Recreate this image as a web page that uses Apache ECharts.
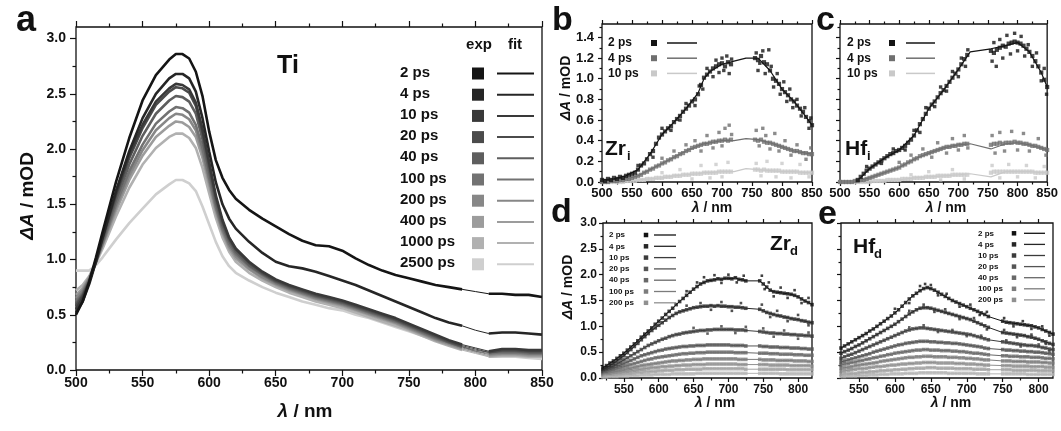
<!DOCTYPE html>
<html><head><meta charset="utf-8">
<script src="https://cdn.jsdelivr.net/npm/echarts@6/dist/echarts.min.js"></script>
<style>html,body{margin:0;padding:0;background:#fff}#c{width:1061px;height:431px}</style>
</head><body><div id="c"></div>
<script>
const FONT = '"Liberation Sans", Arial, Helvetica, sans-serif';

// ---------- Panel a (Ti) ----------
const A_WL = [500,505,510,515,520,530,540,550,560,570,575,580,585,590,595,600,605,610,615,620,630,640,650,660,670,680,690,700,710,720,730,740,750,760,770,780,790,800,810,820,830,840,850];
const A_LABELS = ['2 ps','4 ps','10 ps','20 ps','40 ps','100 ps','200 ps','400 ps','1000 ps','2500 ps'];
const A_2PS   = [0.50,0.62,0.80,1.02,1.25,1.70,2.10,2.44,2.67,2.81,2.86,2.86,2.82,2.70,2.48,2.16,1.90,1.74,1.63,1.55,1.45,1.37,1.30,1.23,1.17,1.13,1.12,1.08,1.01,0.95,0.90,0.86,0.83,0.80,0.77,0.75,0.73,0.71,0.69,0.69,0.68,0.68,0.66];
const A_4PS   = [0.52,0.62,0.78,0.98,1.20,1.62,1.98,2.28,2.50,2.64,2.68,2.68,2.64,2.52,2.28,1.98,1.70,1.50,1.37,1.28,1.16,1.06,0.98,0.94,0.92,0.89,0.85,0.81,0.77,0.72,0.67,0.62,0.57,0.52,0.47,0.43,0.40,0.36,0.33,0.34,0.34,0.33,0.32];
const A_10PS  = [0.55,0.65,0.80,1.00,1.20,1.60,1.95,2.22,2.43,2.55,2.59,2.58,2.54,2.42,2.18,1.88,1.58,1.36,1.20,1.10,0.98,0.89,0.82,0.77,0.73,0.69,0.66,0.63,0.59,0.55,0.51,0.47,0.42,0.37,0.32,0.27,0.23,0.20,0.17,0.19,0.19,0.18,0.18];
const A_20PS  = [0.58,0.67,0.80,0.99,1.19,1.58,1.92,2.19,2.40,2.52,2.56,2.55,2.51,2.39,2.15,1.85,1.56,1.34,1.19,1.09,0.97,0.88,0.81,0.76,0.72,0.68,0.65,0.62,0.58,0.54,0.50,0.46,0.41,0.36,0.31,0.26,0.22,0.19,0.16,0.18,0.18,0.17,0.17];
const A_40PS  = [0.60,0.68,0.81,0.98,1.17,1.54,1.86,2.12,2.32,2.44,2.48,2.47,2.43,2.32,2.09,1.80,1.52,1.31,1.17,1.07,0.95,0.87,0.80,0.75,0.71,0.67,0.64,0.61,0.57,0.53,0.49,0.45,0.40,0.35,0.30,0.25,0.21,0.18,0.16,0.17,0.17,0.16,0.16];
const A_100PS = [0.62,0.70,0.82,0.98,1.15,1.50,1.80,2.04,2.23,2.34,2.38,2.37,2.33,2.22,2.01,1.74,1.48,1.28,1.14,1.05,0.94,0.86,0.79,0.74,0.70,0.66,0.63,0.60,0.56,0.52,0.48,0.44,0.39,0.34,0.29,0.25,0.21,0.17,0.15,0.16,0.16,0.15,0.15];
const A_200PS = [0.65,0.72,0.83,0.98,1.14,1.47,1.76,1.99,2.17,2.28,2.32,2.31,2.27,2.17,1.97,1.71,1.46,1.26,1.12,1.03,0.92,0.84,0.78,0.73,0.69,0.65,0.62,0.59,0.55,0.51,0.47,0.43,0.38,0.33,0.28,0.24,0.20,0.17,0.14,0.15,0.15,0.14,0.14];
const A_400PS = [0.68,0.74,0.84,0.98,1.13,1.44,1.72,1.94,2.11,2.21,2.25,2.24,2.20,2.11,1.92,1.67,1.43,1.24,1.10,1.01,0.91,0.83,0.77,0.72,0.68,0.64,0.61,0.58,0.54,0.50,0.46,0.42,0.37,0.32,0.27,0.23,0.19,0.16,0.13,0.14,0.14,0.13,0.13];
const A_1000PS= [0.72,0.77,0.85,0.97,1.10,1.39,1.65,1.86,2.01,2.11,2.14,2.14,2.10,2.01,1.83,1.60,1.38,1.20,1.07,0.98,0.88,0.81,0.75,0.70,0.66,0.62,0.59,0.56,0.52,0.48,0.44,0.40,0.36,0.31,0.26,0.22,0.18,0.15,0.12,0.13,0.13,0.12,0.12];
const A_2500PS= [0.90,0.90,0.90,0.95,1.02,1.18,1.33,1.46,1.59,1.68,1.72,1.72,1.69,1.62,1.48,1.32,1.16,1.03,0.94,0.88,0.81,0.75,0.70,0.66,0.62,0.59,0.56,0.54,0.50,0.47,0.43,0.39,0.35,0.31,0.27,0.23,0.19,0.16,0.12,0.12,0.12,0.11,0.10];
const A_COLORS = ['#151515','#262626','#393939','#4b4b4b','#5e5e5e','#727272','#878787','#9c9c9c','#b1b1b1','#cfcfcf'];

// ---------- Panel b (Zr_i) & c (Hf_i): wavelength grid 500..850 step 5 ----------
const BC_WL_START = 500, BC_WL_END = 850, BC_WL_STEP = 5;
const BC_LABELS = ['2 ps','4 ps','10 ps'];
const BC_COLORS = ['#141414','#6f6f6f','#c9c9c9'];
const B_2PS = [0.02,0.01,0.03,0.02,0.04,0.03,0.05,0.04,0.06,0.07, 0.08,0.09,0.12,0.16,0.18,0.22,0.27,0.30,0.37,0.43, 0.46,0.49,0.52,0.54,0.58,0.61,0.64,0.68,0.71,0.74, 0.78,0.80,0.85,0.94,1.01,1.04,1.07,1.10,1.12,1.14, 1.15,1.12,1.16,1.14, null,null,null,null,null,null,null, 1.20,1.18,1.22,1.16,1.14,1.08,1.00,0.98,0.95,0.90, 0.87,0.84,0.80,0.78,0.74,0.71,0.68,0.63,0.59,0.55];
const B_4PS = [0,0,0,0.01,0.01,0.01,0.02,0.02,0.03,0.03, 0.04,0.05,0.06,0.07,0.09,0.10,0.12,0.13,0.15,0.16, 0.18,0.19,0.21,0.22,0.24,0.25,0.27,0.28,0.30,0.31, 0.33,0.34,0.35,0.36,0.37,0.37,0.38,0.39,0.39,0.40, 0.40,0.41,0.40,0.41, null,null,null,null,null,null,null, 0.41,0.40,0.41,0.39,0.38,0.38,0.37,0.36,0.35,0.34, 0.33,0.32,0.31,0.30,0.30,0.29,0.28,0.28,0.27,0.27];
const B_10PS = [0,0,0,0,0,0,0,0,0.01,0.01, 0.01,0.01,0.02,0.02,0.02,0.03,0.03,0.03,0.04,0.04, 0.04,0.05,0.05,0.05,0.06,0.06,0.06,0.07,0.07,0.07, 0.08,0.08,0.08,0.08,0.09,0.09,0.09,0.09,0.09,0.10, 0.10,0.10,0.10,0.10, null,null,null,null,null,null,null, 0.12,0.12,0.11,0.12,0.11,0.11,0.11,0.11,0.11,0.10, 0.10,0.10,0.10,0.10,0.10,0.09,0.09,0.09,0.09,0.09];
// scattered points off the main band as [nm, mOD]
const B_2PS_OFF = [[560,0.16],[585,0.24],[600,0.52],[615,0.50],[630,0.60],[640,0.76],[655,0.74],[662,0.93],[668,0.90],[675,1.10],[685,1.02],[690,1.18],[695,1.06],[700,1.20],[703,1.08],[708,1.22],[712,1.05],[716,1.19],[757,1.25],[760,1.08],[763,1.15],[768,1.27],[772,1.05],[778,1.28],[782,1.12],[786,0.92],[792,1.05],[797,0.85],[803,0.97],[808,0.78],[813,0.90],[818,0.72],[825,0.80],[832,0.64],[838,0.72],[845,0.52],[848,0.62]];
const B_4PS_OFF = [[600,0.23],[620,0.30],[640,0.36],[655,0.40],[665,0.30],[675,0.45],[685,0.33],[695,0.48],[700,0.35],[705,0.52],[712,0.55],[716,0.46],[757,0.50],[762,0.35],[768,0.52],[773,0.45],[780,0.32],[788,0.47],[795,0.30],[805,0.40],[815,0.26],[825,0.36],[840,0.22],[848,0.33]];
const B_10PS_OFF = [[600,0.09],[630,0.12],[650,0.03],[665,0.16],[680,0.04],[690,0.17],[700,0.05],[710,0.19],[757,0.18],[765,0.06],[775,0.20],[790,0.05],[800,0.18],[815,0.04],[830,0.17],[845,0.05]];
const B_FIT_WL = [500,520,540,560,580,600,620,640,660,670,680,700,720,740,760,780,800,820,840,850];
const B_FIT_2PS = [0.02,0.03,0.06,0.12,0.27,0.46,0.58,0.71,0.86,1.00,1.07,1.14,1.17,1.20,1.20,1.08,0.90,0.78,0.63,0.55];
const B_FIT_4PS = [0,0.01,0.03,0.06,0.12,0.18,0.24,0.30,0.35,0.37,0.38,0.40,0.40,0.42,0.41,0.38,0.34,0.30,0.28,0.27];
const B_FIT_10PS = [0,0,0.01,0.02,0.03,0.04,0.06,0.07,0.08,0.09,0.09,0.10,0.10,0.13,0.12,0.11,0.10,0.10,0.09,0.09];

const C_2PS = [null,null,null,null,null,null,0.02,0.05,0.08,0.11, 0.13,0.15,0.17,0.19,0.21,0.23,0.25,0.27,0.28,0.30, 0.31,0.33,0.35,0.38,0.41,0.45,0.50,0.56,0.61,0.66, 0.71,0.75,0.78,0.82,0.86,0.89,0.93,0.97,1.01,1.05, 1.09,1.14,1.19,1.23, null,null,null,null,null,null,null, 1.27,1.25,1.28,1.30,1.32,1.31,1.34,1.35,1.36,1.35, 1.34,1.32,1.29,1.26,1.22,1.17,1.12,1.06,0.99,0.92];
const C_4PS = [0,0,0,0,0,0.01,0.01,0.02,0.02,0.03, 0.04,0.05,0.06,0.07,0.08,0.09,0.10,0.11,0.12,0.13, 0.14,0.16,0.17,0.19,0.20,0.22,0.23,0.25,0.26,0.27, 0.28,0.29,0.30,0.31,0.32,0.33,0.34,0.34,0.35,0.35, 0.36,0.36,0.37,0.37, null,null,null,null,null,null,null, 0.36,0.37,0.37,0.38,0.37,0.38,0.38,0.38,0.39,0.38, 0.38,0.37,0.37,0.36,0.35,0.35,0.34,0.33,0.32,0.31];
const C_10PS = [0,0,0,0,0,0,0,0,0,0, 0,0.01,0.01,0.01,0.01,0.01,0.02,0.02,0.02,0.02, 0.02,0.03,0.03,0.03,0.03,0.04,0.04,0.04,0.04,0.05, 0.05,0.05,0.05,0.06,0.06,0.06,0.06,0.06,0.07,0.07, 0.07,0.07,0.07,0.07, null,null,null,null,null,null,null, 0.09,0.10,0.10,0.10,0.10,0.10,0.10,0.10,0.10,0.10, 0.10,0.10,0.10,0.10,0.10,0.09,0.09,0.09,0.09,0.09];
const C_2PS_OFF = [[545,0.15],[570,0.18],[590,0.32],[610,0.31],[625,0.50],[635,0.48],[645,0.72],[660,0.73],[670,0.92],[680,0.88],[690,1.07],[700,1.02],[705,1.20],[712,1.12],[716,1.28],[757,1.17],[760,1.35],[764,1.12],[770,1.38],[775,1.20],[782,1.42],[788,1.24],[795,1.44],[800,1.27],[806,1.41],[812,1.22],[818,1.33],[825,1.12],[832,1.25],[840,0.98],[845,1.10],[849,0.85]];
const C_4PS_OFF = [[600,0.19],[620,0.26],[640,0.32],[655,0.24],[665,0.38],[680,0.28],[690,0.42],[700,0.31],[710,0.45],[716,0.33],[757,0.45],[762,0.28],[770,0.48],[778,0.30],[790,0.49],[800,0.31],[810,0.47],[820,0.30],[835,0.42],[848,0.26]];
const C_10PS_OFF = [[620,0.07],[650,0.10],[670,0.02],[690,0.12],[710,0.03],[757,0.16],[770,0.04],[785,0.17],[800,0.05],[815,0.16],[830,0.04],[845,0.15]];
const C_FIT_WL = [500,528,550,575,600,625,650,675,700,720,755,780,800,820,840,850];
const C_FIT_2PS = [null,0,0.13,0.23,0.31,0.45,0.71,0.89,1.09,1.26,1.29,1.32,1.35,1.26,1.06,0.92];
const C_FIT_4PS = [0,0.01,0.04,0.09,0.14,0.22,0.28,0.33,0.36,0.37,0.32,0.37,0.38,0.36,0.33,0.31];
const C_FIT_10PS = [0,0,0,0.01,0.02,0.04,0.05,0.06,0.07,0.08,0.05,0.10,0.10,0.10,0.09,0.09];

// ---------- Panel d (Zr_d): grid 520..820 step 5 ----------
const D_WL_START = 520, D_WL_END = 820, D_WL_STEP = 5;
const DE_LABELS = ['2 ps','4 ps','10 ps','20 ps','40 ps','100 ps','200 ps'];
const DE_COLORS = ['#121212','#262626','#3b3b3b','#545454','#686868','#7c7c7c','#909090','#a3a3a3','#b5b5b5'];
const D_2PS = [0.20,0.24,0.29,0.33,0.38,0.43,0.48,0.54,0.60,0.66, 0.72,0.79,0.85,0.91,0.97,1.04,1.10,1.16,1.23,1.29, 1.35,1.42,1.48,1.54,1.60,1.66,1.72,1.77,1.82,1.85, 1.88,1.89,1.90,1.92,1.91,1.93,1.93,1.92,1.94,1.91, 1.90,1.88, null,null,null, 1.88,1.82,1.76,1.70,1.67,1.66,1.65,1.64,1.63,1.62, 1.60,1.57,1.53,1.49,1.46,1.42];
const D_4PS = [0.17,0.20,0.24,0.28,0.33,0.38,0.43,0.49,0.55,0.61, 0.67,0.74,0.80,0.86,0.92,0.97,1.02,1.07,1.12,1.17, 1.21,1.25,1.28,1.30,1.32,1.34,1.36,1.37,1.38,1.39, 1.39,1.40,1.39,1.40,1.39,1.39,1.38,1.38,1.37,1.37, 1.36,1.35, null,null,null, 1.33,1.30,1.27,1.25,1.23,1.21,1.20,1.18,1.17,1.15, 1.14,1.13,1.11,1.10,1.08,1.07];
const D_10PS = [0.14,0.17,0.20,0.23,0.27,0.31,0.35,0.39,0.43,0.47, 0.51,0.55,0.59,0.63,0.66,0.69,0.72,0.75,0.77,0.80, 0.82,0.84,0.85,0.87,0.88,0.89,0.90,0.91,0.92,0.92, 0.93,0.93,0.94,0.94,0.94,0.94,0.94,0.94,0.93,0.93, 0.93,0.92, null,null,null, 0.90,0.89,0.88,0.87,0.87,0.86,0.86,0.85,0.85,0.84, 0.84,0.83,0.83,0.82,0.82,0.81];
const D_20PS = [0.12,0.14,0.17,0.19,0.22,0.25,0.28,0.31,0.34,0.37, 0.40,0.43,0.45,0.47,0.49,0.51,0.53,0.54,0.56,0.57, 0.58,0.59,0.60,0.61,0.61,0.62,0.62,0.63,0.63,0.63, 0.64,0.64,0.64,0.64,0.64,0.64,0.64,0.63,0.63,0.63, 0.63,0.62, null,null,null, 0.62,0.61,0.61,0.60,0.60,0.60,0.59,0.59,0.59,0.58, 0.58,0.58,0.57,0.57,0.56,0.56];
const D_40PS = [0.10,0.12,0.14,0.16,0.18,0.20,0.22,0.24,0.26,0.28, 0.30,0.32,0.34,0.36,0.37,0.39,0.40,0.41,0.42,0.43, 0.44,0.45,0.46,0.47,0.47,0.48,0.48,0.49,0.49,0.49, 0.50,0.50,0.50,0.50,0.50,0.50,0.50,0.50,0.49,0.49, 0.49,0.49, null,null,null, 0.48,0.48,0.48,0.47,0.47,0.47,0.46,0.46,0.46,0.46, 0.45,0.45,0.45,0.44,0.44,0.44];
const D_100PS = [0.08,0.09,0.10,0.12,0.13,0.15,0.16,0.18,0.19,0.21, 0.22,0.24,0.25,0.26,0.27,0.28,0.29,0.30,0.31,0.32, 0.33,0.33,0.34,0.34,0.35,0.35,0.36,0.36,0.36,0.37, 0.37,0.37,0.37,0.37,0.37,0.37,0.37,0.37,0.37,0.36, 0.36,0.36, null,null,null, 0.36,0.35,0.35,0.35,0.35,0.34,0.34,0.34,0.34,0.34, 0.33,0.33,0.33,0.33,0.32,0.32];
const D_200PS = [0.06,0.07,0.08,0.09,0.10,0.11,0.12,0.13,0.14,0.15, 0.16,0.17,0.18,0.19,0.20,0.20,0.21,0.22,0.22,0.23, 0.23,0.24,0.24,0.25,0.25,0.25,0.26,0.26,0.26,0.26, 0.27,0.27,0.27,0.27,0.27,0.27,0.27,0.27,0.27,0.26, 0.26,0.26, null,null,null, 0.26,0.26,0.26,0.25,0.25,0.25,0.25,0.25,0.25,0.24, 0.24,0.24,0.24,0.24,0.24,0.23];
const D_BAND8 = [0.04,0.05,0.05,0.06,0.07,0.07,0.08,0.09,0.09,0.10, 0.11,0.11,0.12,0.12,0.13,0.13,0.14,0.14,0.15,0.15, 0.15,0.16,0.16,0.16,0.17,0.17,0.17,0.17,0.17,0.18, 0.18,0.18,0.18,0.18,0.18,0.18,0.18,0.18,0.18,0.18, 0.18,0.17, null,null,null, 0.17,0.17,0.17,0.17,0.17,0.17,0.17,0.17,0.16,0.16, 0.16,0.16,0.16,0.16,0.16,0.16];
const D_BAND9 = [0.02,0.02,0.03,0.03,0.03,0.04,0.04,0.04,0.05,0.05, 0.05,0.06,0.06,0.06,0.06,0.07,0.07,0.07,0.07,0.07, 0.08,0.08,0.08,0.08,0.08,0.08,0.08,0.09,0.09,0.09, 0.09,0.09,0.09,0.09,0.09,0.09,0.09,0.09,0.09,0.09, 0.09,0.09, null,null,null, 0.09,0.09,0.09,0.09,0.09,0.09,0.08,0.08,0.08,0.08, 0.08,0.08,0.08,0.08,0.08,0.08];
const D_2PS_OFF = [[640,1.68],[655,1.85],[665,1.95],[680,1.99],[690,1.84],[700,2.00],[712,1.85],[722,1.98],[748,1.98],[752,1.72],[758,1.85],[765,1.58],[775,1.75],[785,1.55],[795,1.70],[805,1.45],[815,1.55]];
const D_4PS_OFF = [[640,1.40],[660,1.45],[675,1.32],[690,1.47],[705,1.30],[718,1.45],[748,1.42],[760,1.18],[770,1.30],[785,1.10],[800,1.22],[815,1.02]];
const D_10PS_OFF = [[650,0.97],[670,0.86],[690,1.00],[710,0.87],[725,0.99],[750,0.96],[765,0.80],[780,0.92],[800,0.76],[815,0.88]];

// ---------- Panel e (Hf_d): grid 525..820 step 5 ----------
const E_WL_START = 525, E_WL_END = 820, E_WL_STEP = 5;
const E_2PS = [0.58,0.62,0.66,0.70,0.74,0.78,0.82,0.86,0.91,0.95, 1.00,1.05,1.10,1.15,1.20,1.26,1.32,1.39,1.46,1.53, 1.59,1.64,1.69,1.73,1.75,1.73,1.70,1.66,1.62,1.58, 1.54,1.50,1.47,1.44,1.41,1.38,1.35,1.32,1.29,1.26, 1.23,1.19, null,null,null, 1.10,1.08,1.07,1.06,1.05,1.04,1.03,1.02,1.01,0.99, 0.97,0.94,0.91,0.88,0.85];
const E_4PS = [0.48,0.51,0.54,0.57,0.61,0.64,0.68,0.72,0.76,0.80, 0.84,0.88,0.92,0.96,1.00,1.04,1.09,1.14,1.19,1.24, 1.28,1.32,1.35,1.36,1.36,1.35,1.33,1.31,1.29,1.27, 1.25,1.23,1.21,1.19,1.17,1.15,1.13,1.10,1.07,1.04, 1.01,0.98, null,null,null, 0.88,0.87,0.86,0.85,0.84,0.83,0.82,0.80,0.79,0.77, 0.75,0.72,0.70,0.67,0.65];
const E_10PS = [0.38,0.41,0.44,0.46,0.49,0.52,0.55,0.58,0.61,0.64, 0.67,0.70,0.73,0.76,0.79,0.82,0.85,0.88,0.91,0.93, 0.95,0.96,0.97,0.97,0.96,0.95,0.94,0.93,0.92,0.91, 0.90,0.89,0.88,0.87,0.86,0.85,0.84,0.82,0.80,0.78, 0.76,0.74, null,null,null, 0.70,0.69,0.68,0.67,0.66,0.65,0.64,0.63,0.63,0.62, 0.61,0.59,0.58,0.56,0.55];
const E_20PS = [0.31,0.33,0.35,0.37,0.39,0.41,0.43,0.45,0.47,0.50, 0.52,0.54,0.56,0.58,0.60,0.62,0.64,0.65,0.67,0.68, 0.69,0.70,0.71,0.71,0.71,0.70,0.70,0.69,0.69,0.68, 0.68,0.67,0.67,0.66,0.65,0.64,0.63,0.62,0.61,0.60, 0.58,0.57, null,null,null, 0.55,0.54,0.54,0.53,0.53,0.52,0.52,0.51,0.51,0.50, 0.50,0.49,0.48,0.47,0.46];
const E_40PS = [0.25,0.27,0.28,0.30,0.31,0.33,0.34,0.36,0.37,0.39, 0.40,0.42,0.43,0.45,0.46,0.48,0.49,0.50,0.51,0.52, 0.53,0.54,0.54,0.55,0.55,0.54,0.54,0.54,0.53,0.53, 0.53,0.52,0.52,0.51,0.51,0.50,0.49,0.48,0.48,0.47, 0.46,0.45, null,null,null, 0.43,0.43,0.42,0.42,0.42,0.41,0.41,0.41,0.40,0.40, 0.40,0.39,0.38,0.38,0.37];
const E_100PS = [0.19,0.20,0.21,0.22,0.24,0.25,0.26,0.27,0.28,0.29, 0.30,0.32,0.33,0.34,0.35,0.36,0.37,0.38,0.39,0.40, 0.40,0.41,0.41,0.42,0.42,0.42,0.41,0.41,0.41,0.41, 0.40,0.40,0.40,0.39,0.39,0.38,0.38,0.37,0.37,0.36, 0.35,0.35, null,null,null, 0.33,0.33,0.33,0.32,0.32,0.32,0.32,0.31,0.31,0.31, 0.31,0.30,0.30,0.29,0.29];
const E_200PS = [0.13,0.14,0.15,0.16,0.17,0.18,0.18,0.19,0.20,0.21, 0.22,0.22,0.23,0.24,0.25,0.25,0.26,0.27,0.27,0.28, 0.28,0.29,0.29,0.30,0.30,0.30,0.30,0.29,0.29,0.29, 0.29,0.29,0.28,0.28,0.28,0.27,0.27,0.27,0.26,0.26, 0.25,0.25, null,null,null, 0.24,0.24,0.24,0.23,0.23,0.23,0.23,0.23,0.22,0.22, 0.22,0.22,0.21,0.21,0.21];
const E_BAND8 = [0.07,0.08,0.08,0.09,0.09,0.10,0.11,0.11,0.12,0.12, 0.13,0.14,0.14,0.15,0.15,0.16,0.16,0.17,0.17,0.18, 0.18,0.19,0.19,0.19,0.20,0.20,0.20,0.19,0.19,0.19, 0.19,0.19,0.18,0.18,0.18,0.18,0.18,0.17,0.17,0.17, 0.17,0.16, null,null,null, 0.16,0.16,0.16,0.15,0.15,0.15,0.15,0.15,0.15,0.15, 0.14,0.14,0.14,0.14,0.14];
const E_BAND9 = [0.03,0.03,0.04,0.04,0.04,0.05,0.05,0.05,0.06,0.06, 0.06,0.07,0.07,0.07,0.08,0.08,0.08,0.08,0.09,0.09, 0.09,0.09,0.10,0.10,0.10,0.10,0.10,0.10,0.10,0.10, 0.09,0.09,0.09,0.09,0.09,0.09,0.09,0.09,0.08,0.08, 0.08,0.08, null,null,null, 0.08,0.08,0.08,0.08,0.08,0.08,0.08,0.07,0.07,0.07, 0.07,0.07,0.07,0.07,0.07];
const E_2PS_OFF = [[600,1.34],[620,1.45],[635,1.78],[642,1.82],[650,1.80],[660,1.60],[672,1.63],[690,1.38],[705,1.42],[718,1.22],[728,1.28],[752,1.16],[765,1.00],[778,1.10],[790,0.95],[805,1.00],[815,0.82]];
const E_4PS_OFF = [[620,1.30],[640,1.42],[655,1.28],[670,1.33],[690,1.14],[710,1.16],[728,0.94],[752,0.93],[770,0.79],[790,0.84],[810,0.66]];
const E_10PS_OFF = [[620,0.98],[640,1.02],[660,0.89],[680,0.93],[700,0.81],[720,0.82],[755,0.73],[775,0.61],[800,0.65],[815,0.52]];

// ---------- tick values ----------
const A_X_MAJOR = [500,550,600,650,700,750,800,850];
const A_X_MINOR = [525,575,625,675,725,775,825];
const A_Y_MAJOR = [0,0.5,1.0,1.5,2.0,2.5,3.0];
const A_Y_MINOR = [0.25,0.75,1.25,1.75,2.25,2.75];
const BC_X_MAJOR = [500,550,600,650,700,750,800,850];
const BC_X_MINOR = [525,575,625,675,725,775,825];
const BC_Y_MAJOR = [0,0.2,0.4,0.6,0.8,1.0,1.2,1.4];
const BC_Y_MINOR = [0.1,0.3,0.5,0.7,0.9,1.1,1.3,1.5];
const DE_X_MAJOR = [550,600,650,700,750,800];
const DE_X_MINOR_D = [525,575,625,675,725,775];
const DE_X_MINOR_E = [575,625,675,725,775];
const DE_Y_MAJOR = [0,0.5,1.0,1.5,2.0,2.5,3.0];
const DE_Y_MINOR = [0.25,0.75,1.25,1.75,2.25,2.75];

// ================= build =================
function grid(start, end, step){ const r=[]; for(let w=start; w<=end+1e-9; w+=step) r.push(w); return r; }
const BC_WL = grid(BC_WL_START, BC_WL_END, BC_WL_STEP);
const D_WL = grid(D_WL_START, D_WL_END, D_WL_STEP);
const E_WL = grid(E_WL_START, E_WL_END, E_WL_STEP);
const pairs = (xs, ys) => xs.map((x,i)=>[x, ys[i]]);

const grids = [
  {left:76, top:27, width:466, height:343},
  {left:602, top:24, width:210, height:158},
  {left:840, top:24, width:211, height:158},
  {left:603, top:223, width:209, height:155},
  {left:841, top:223, width:212, height:155}
].map(g => Object.assign({show:true, borderColor:'#111', borderWidth:1.3, backgroundColor:'transparent'}, g));

const xAxes = [], yAxes = [];
const TICK_STYLE = {color:'#111', width:1.2};
function addAxes(gi, p){
  const xb = {gridIndex:gi, type:'value', min:p.xMin, max:p.xMax, axisLine:{show:false}, splitLine:{show:false}};
  const yb = {gridIndex:gi, type:'value', min:p.yMin, max:p.yMax, axisLine:{show:false}, splitLine:{show:false}};
  const xi = xAxes.length, yi = yAxes.length;
  const lab = (vals, fmt, margin) => vals ? {customValues:vals, fontSize:p.fs, fontWeight:'bold', fontFamily:FONT, color:'#111', margin:margin, formatter:fmt} : {show:false};
  xAxes.push(Object.assign({}, xb, {position:'bottom', axisTick:{customValues:p.xMaj, length:p.tl, lineStyle:TICK_STYLE}, axisLabel:lab(p.xLab, v=>String(Math.round(v)), p.xm)}));
  xAxes.push(Object.assign({}, xb, {position:'bottom', axisTick:{customValues:p.xMin2, length:p.tlm, lineStyle:TICK_STYLE}, axisLabel:{show:false}}));
  xAxes.push(Object.assign({}, xb, {position:'top', axisTick:{customValues:p.xMaj, length:p.tl, lineStyle:TICK_STYLE}, axisLabel:{show:false}}));
  xAxes.push(Object.assign({}, xb, {position:'top', axisTick:{customValues:p.xMin2, length:p.tlm, lineStyle:TICK_STYLE}, axisLabel:{show:false}}));
  yAxes.push(Object.assign({}, yb, {position:'left', axisTick:{customValues:p.yMaj, length:p.tl, lineStyle:TICK_STYLE}, axisLabel:lab(p.yLab, v=>v.toFixed(1), p.ym)}));
  yAxes.push(Object.assign({}, yb, {position:'left', axisTick:{customValues:p.yMin2, length:p.tlm, lineStyle:TICK_STYLE}, axisLabel:{show:false}}));
  return {xi, yi};
}
const axA = addAxes(0, {xMin:500,xMax:850,yMin:0,yMax:3.105, xMaj:A_X_MAJOR,xMin2:A_X_MINOR,xLab:A_X_MAJOR, yMaj:A_Y_MAJOR,yMin2:A_Y_MINOR,yLab:A_Y_MAJOR, fs:14, tl:6, tlm:3.5, xm:6, ym:10});
const axB = addAxes(1, {xMin:500,xMax:850,yMin:0,yMax:1.53, xMaj:BC_X_MAJOR,xMin2:BC_X_MINOR,xLab:BC_X_MAJOR, yMaj:BC_Y_MAJOR,yMin2:BC_Y_MINOR,yLab:BC_Y_MAJOR, fs:13, tl:4, tlm:2.5, xm:5, ym:8});
const axC = addAxes(2, {xMin:500,xMax:850,yMin:0,yMax:1.53, xMaj:BC_X_MAJOR,xMin2:BC_X_MINOR,xLab:BC_X_MAJOR, yMaj:BC_Y_MAJOR,yMin2:BC_Y_MINOR,yLab:null, fs:13, tl:4, tlm:2.5, xm:5, ym:8});
const axD = addAxes(3, {xMin:520,xMax:820,yMin:0,yMax:3.0, xMaj:DE_X_MAJOR,xMin2:DE_X_MINOR_D,xLab:DE_X_MAJOR, yMaj:DE_Y_MAJOR,yMin2:DE_Y_MINOR,yLab:DE_Y_MAJOR, fs:12, tl:4, tlm:2.5, xm:6, ym:6});
const axE = addAxes(4, {xMin:525,xMax:820,yMin:0,yMax:3.0, xMaj:DE_X_MAJOR,xMin2:DE_X_MINOR_E,xLab:DE_X_MAJOR, yMaj:DE_Y_MAJOR,yMin2:DE_Y_MINOR,yLab:null, fs:12, tl:4, tlm:2.5, xm:6, ym:6});

const series = [];
// panel a
const A_ALL = [A_2PS,A_4PS,A_10PS,A_20PS,A_40PS,A_100PS,A_200PS,A_400PS,A_1000PS,A_2500PS];
for (let i = A_ALL.length-1; i >= 0; i--) {
  const v = A_ALL[i];
  series.push({type:'line', name:A_LABELS[i]+' fit', xAxisIndex:axA.xi, yAxisIndex:axA.yi, data:pairs(A_WL, v), showSymbol:false, symbol:'none', lineStyle:{color:A_COLORS[i], width:1}, z:2, silent:true});
  series.push({type:'line', name:A_LABELS[i]+' exp', xAxisIndex:axA.xi, yAxisIndex:axA.yi,
    data:A_WL.map((w,k)=>[w, (w>790 && w<810) ? null : v[k]]), showSymbol:false, symbol:'none', connectNulls:false,
    lineStyle:{color:A_COLORS[i], width:2.6}, z:3, silent:true});
}
function scat(ax, data, color, size){
  series.push({type:'scatter', xAxisIndex:ax.xi, yAxisIndex:ax.yi, data:data, symbol:'rect', symbolSize:size, itemStyle:{color:color}, z:3, silent:true});
}
// panels b, c
function scatterPanel(ax, exps, offs, fitWl, fits, size){
  for (let i = exps.length-1; i >= 0; i--) {
    series.push({type:'line', xAxisIndex:ax.xi, yAxisIndex:ax.yi, data:pairs(fitWl, fits[i]), showSymbol:false, symbol:'none', lineStyle:{color:BC_COLORS[i], width:1.2}, z:2, silent:true});
    scat(ax, pairs(BC_WL, exps[i]).filter(p=>p[1]!==null), BC_COLORS[i], size);
    scat(ax, offs[i], BC_COLORS[i], size-0.8);
  }
}
scatterPanel(axB, [B_2PS,B_4PS,B_10PS], [B_2PS_OFF,B_4PS_OFF,B_10PS_OFF], B_FIT_WL, [B_FIT_2PS,B_FIT_4PS,B_FIT_10PS], 4.2);
scatterPanel(axC, [C_2PS,C_4PS,C_10PS], [C_2PS_OFF,C_4PS_OFF,C_10PS_OFF], C_FIT_WL, [C_FIT_2PS,C_FIT_4PS,C_FIT_10PS], 4.2);
// panels d, e
function bandPanel(ax, wl, exps, offs){
  for (let i = exps.length-1; i >= 0; i--) {
    scat(ax, pairs(wl, exps[i]).filter(p=>p[1]!==null), DE_COLORS[i], 3.6);
    if (offs[i]) scat(ax, offs[i], DE_COLORS[i], 2.6);
    series.push({type:'line', xAxisIndex:ax.xi, yAxisIndex:ax.yi, data:pairs(wl, exps[i]), connectNulls:true, showSymbol:false, symbol:'none', lineStyle:{color:DE_COLORS[i], width:1}, z:4, silent:true});
  }
}
bandPanel(axD, D_WL, [D_2PS,D_4PS,D_10PS,D_20PS,D_40PS,D_100PS,D_200PS,D_BAND8,D_BAND9], [D_2PS_OFF,D_4PS_OFF,D_10PS_OFF]);
bandPanel(axE, E_WL, [E_2PS,E_4PS,E_10PS,E_20PS,E_40PS,E_100PS,E_200PS,E_BAND8,E_BAND9], [E_2PS_OFF,E_4PS_OFF,E_10PS_OFF]);

// ---------- graphic texts & legends ----------
const G = [];
function txt(x, y, text, size, o){
  o = o || {};
  const st = {text:text, fill:'#111', font:(o.italic?'italic ':'')+'bold '+size+'px '+FONT, textAlign:o.align||'left', textVerticalAlign:'middle', verticalAlign:'middle'};
  if (o.rich) st.rich = o.rich;
  G.push({type:'text', x:x, y:y, rotation:o.rot||0, z:100, silent:true, style:st});
}
function richName(size){ return {i:{fontStyle:'italic', fontWeight:'bold', fontSize:size, fontFamily:FONT, fill:'#111'}}; }
function legend(labels, colors, o){
  labels.forEach((lb,i)=>{
    const y = o.y0 + o.dy*i;
    txt(o.xt, y, lb, o.fs);
    G.push({type:'rect', silent:true, z:100, shape:{x:o.xs-o.sq/2, y:y-o.sq/2+o.sqdy, width:o.sq, height:o.sq}, style:{fill:colors[i]}});
    G.push({type:'line', silent:true, z:100, shape:{x1:o.l1, y1:y+o.sqdy, x2:o.l2, y2:y+o.sqdy}, style:{stroke:colors[i], lineWidth:o.lw}});
  });
}
// panel letters
txt(16, 21, 'a', 36); txt(552, 21, 'b', 34); txt(816, 21, 'c', 34); txt(551, 213, 'd', 34); txt(818, 215, 'e', 34);
// panel a
txt(288, 66, 'Ti', 25, {align:'center'});
txt(479, 45, 'exp', 15, {align:'center'}); txt(515, 45, 'fit', 15, {align:'center'});
legend(A_LABELS, A_COLORS, {y0:72.5, dy:21.2, xt:400, fs:15, xs:478, sq:12, sqdy:1, l1:497, l2:534, lw:2});
txt(28, 196, '{i|ΔA} / mOD', 19, {align:'center', rot:Math.PI/2, rich:richName(19)});
txt(305, 412, '{i|λ} / nm', 19, {align:'center', rich:richName(19)});
// panel b
legend(BC_LABELS, BC_COLORS, {y0:43, dy:15.2, xt:608, fs:12, xs:654, sq:6, sqdy:0, l1:667, l2:697, lw:1.5});
txt(605, 149, 'Zr', 21); txt(627, 156, 'i', 13);
txt(566, 88, '{i|ΔA} / mOD', 14, {align:'center', rot:Math.PI/2, rich:richName(14)});
txt(712, 208, '{i|λ} / nm', 14, {align:'center', rich:richName(14)});
// panel c
legend(BC_LABELS, BC_COLORS, {y0:43, dy:15.2, xt:847, fs:12, xs:892, sq:6, sqdy:0, l1:906, l2:935, lw:1.5});
txt(845, 149, 'Hf', 21); txt(867, 156, 'i', 13);
txt(946, 208, '{i|λ} / nm', 14, {align:'center', rich:richName(14)});
// panel d
legend(DE_LABELS, DE_COLORS, {y0:235, dy:11.3, xt:609, fs:8, xs:646, sq:4.5, sqdy:0, l1:654, l2:676, lw:1.3});
txt(770, 244, 'Zr', 21); txt(790, 251, 'd', 13);
txt(568, 287, '{i|ΔA} / mOD', 14, {align:'center', rot:Math.PI/2, rich:richName(14)});
txt(715, 403, '{i|λ} / nm', 14, {align:'center', rich:richName(14)});
// panel e
legend(DE_LABELS, DE_COLORS, {y0:233.3, dy:11.1, xt:978, fs:8, xs:1014, sq:4.5, sqdy:0, l1:1024, l2:1045, lw:1.3});
txt(853, 247, 'Hf', 21); txt(874, 254, 'd', 13);
txt(951, 403, '{i|λ} / nm', 14, {align:'center', rich:richName(14)});

const chart = echarts.init(document.getElementById('c'), null, {renderer:'canvas'});
chart.setOption({
  animation:false,
  backgroundColor:'#ffffff',
  textStyle:{fontFamily:FONT},
  grid:grids, xAxis:xAxes, yAxis:yAxes, series:series, graphic:G
});
</script></body></html>
